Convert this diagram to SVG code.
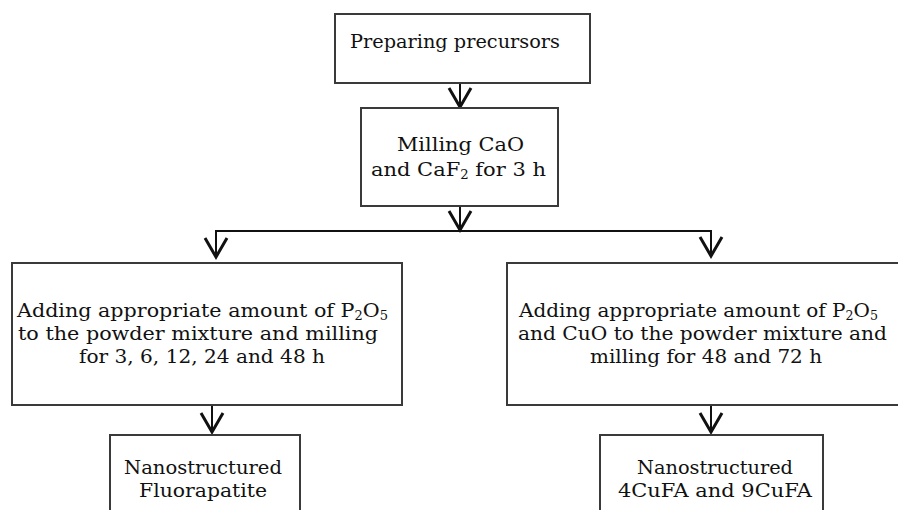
<svg xmlns="http://www.w3.org/2000/svg" width="898" height="510" viewBox="0 0 898 510">
<style>
.box{fill:#fff;stroke:#3a3a3a;stroke-width:2}
.t{font-family:"DejaVu Serif","Liberation Serif",serif;font-size:19px;fill:#111}
.ln{fill:none;stroke:#111;stroke-width:2}
.hd{fill:none;stroke:#111;stroke-width:3;stroke-linejoin:miter}
.sub{font-size:12px}
</style>
<rect width="898" height="510" fill="#fff"/>
<g id="connectors">
<line class="ln" x1="460" y1="83" x2="460" y2="107"/>
<polyline class="hd" points="449,88 460,107 471,88"/>
<line class="ln" x1="460" y1="206" x2="460" y2="231"/>
<polyline class="hd" points="449,211 460,230 471,211"/>
<polyline class="ln" points="216,258 216,231 711,231 711,257"/>
<polyline class="hd" points="205,238 216,257 227,238"/>
<polyline class="hd" points="700,237 711,256 722,237"/>
<line class="ln" x1="212" y1="405" x2="212" y2="433"/>
<polyline class="hd" points="201,413 212,432 223,413"/>
<line class="ln" x1="711" y1="405" x2="711" y2="433"/>
<polyline class="hd" points="700,413 711,432 722,413"/>
</g>
<g id="n1">
<rect class="box" x="335" y="14" width="255" height="69"/>
<text class="t" x="350" y="48" textLength="210" lengthAdjust="spacingAndGlyphs">Preparing precursors</text>
</g>
<g id="n2">
<rect class="box" x="361" y="108" width="197" height="98"/>
<text class="t" x="397" y="151" textLength="127" lengthAdjust="spacingAndGlyphs">Milling CaO</text>
<text class="t" x="371" y="176" textLength="175" lengthAdjust="spacingAndGlyphs">and CaF<tspan class="sub" dy="3">2</tspan><tspan dy="-3"> for 3 h</tspan></text>
</g>
<g id="n3">
<rect class="box" x="12" y="263" width="390" height="142"/>
<text class="t" x="17" y="317" textLength="371" lengthAdjust="spacingAndGlyphs">Adding appropriate amount of P<tspan class="sub" dy="3">2</tspan><tspan dy="-3">O</tspan><tspan class="sub" dy="3">5</tspan></text>
<text class="t" x="18" y="340" textLength="360" lengthAdjust="spacingAndGlyphs">to the powder mixture and milling</text>
<text class="t" x="79" y="363" textLength="246" lengthAdjust="spacingAndGlyphs">for 3, 6, 12, 24 and 48 h</text>
</g>
<g id="n4">
<rect class="box" x="507" y="263" width="395" height="142"/>
<text class="t" x="519" y="317" textLength="359" lengthAdjust="spacingAndGlyphs">Adding appropriate amount of P<tspan class="sub" dy="3">2</tspan><tspan dy="-3">O</tspan><tspan class="sub" dy="3">5</tspan></text>
<text class="t" x="518" y="340" textLength="369" lengthAdjust="spacingAndGlyphs">and CuO to the powder mixture and</text>
<text class="t" x="590" y="363" textLength="232" lengthAdjust="spacingAndGlyphs">milling for 48 and 72 h</text>
</g>
<g id="n5">
<rect class="box" x="110" y="435" width="190" height="90"/>
<text class="t" x="124" y="474" textLength="158" lengthAdjust="spacingAndGlyphs">Nanostructured</text>
<text class="t" x="139" y="497" textLength="128" lengthAdjust="spacingAndGlyphs">Fluorapatite</text>
</g>
<g id="n6">
<rect class="box" x="600" y="435" width="223" height="90"/>
<text class="t" x="637" y="474" textLength="156" lengthAdjust="spacingAndGlyphs">Nanostructured</text>
<text class="t" x="618" y="497" textLength="194" lengthAdjust="spacingAndGlyphs">4CuFA and 9CuFA</text>
</g>
</svg>
